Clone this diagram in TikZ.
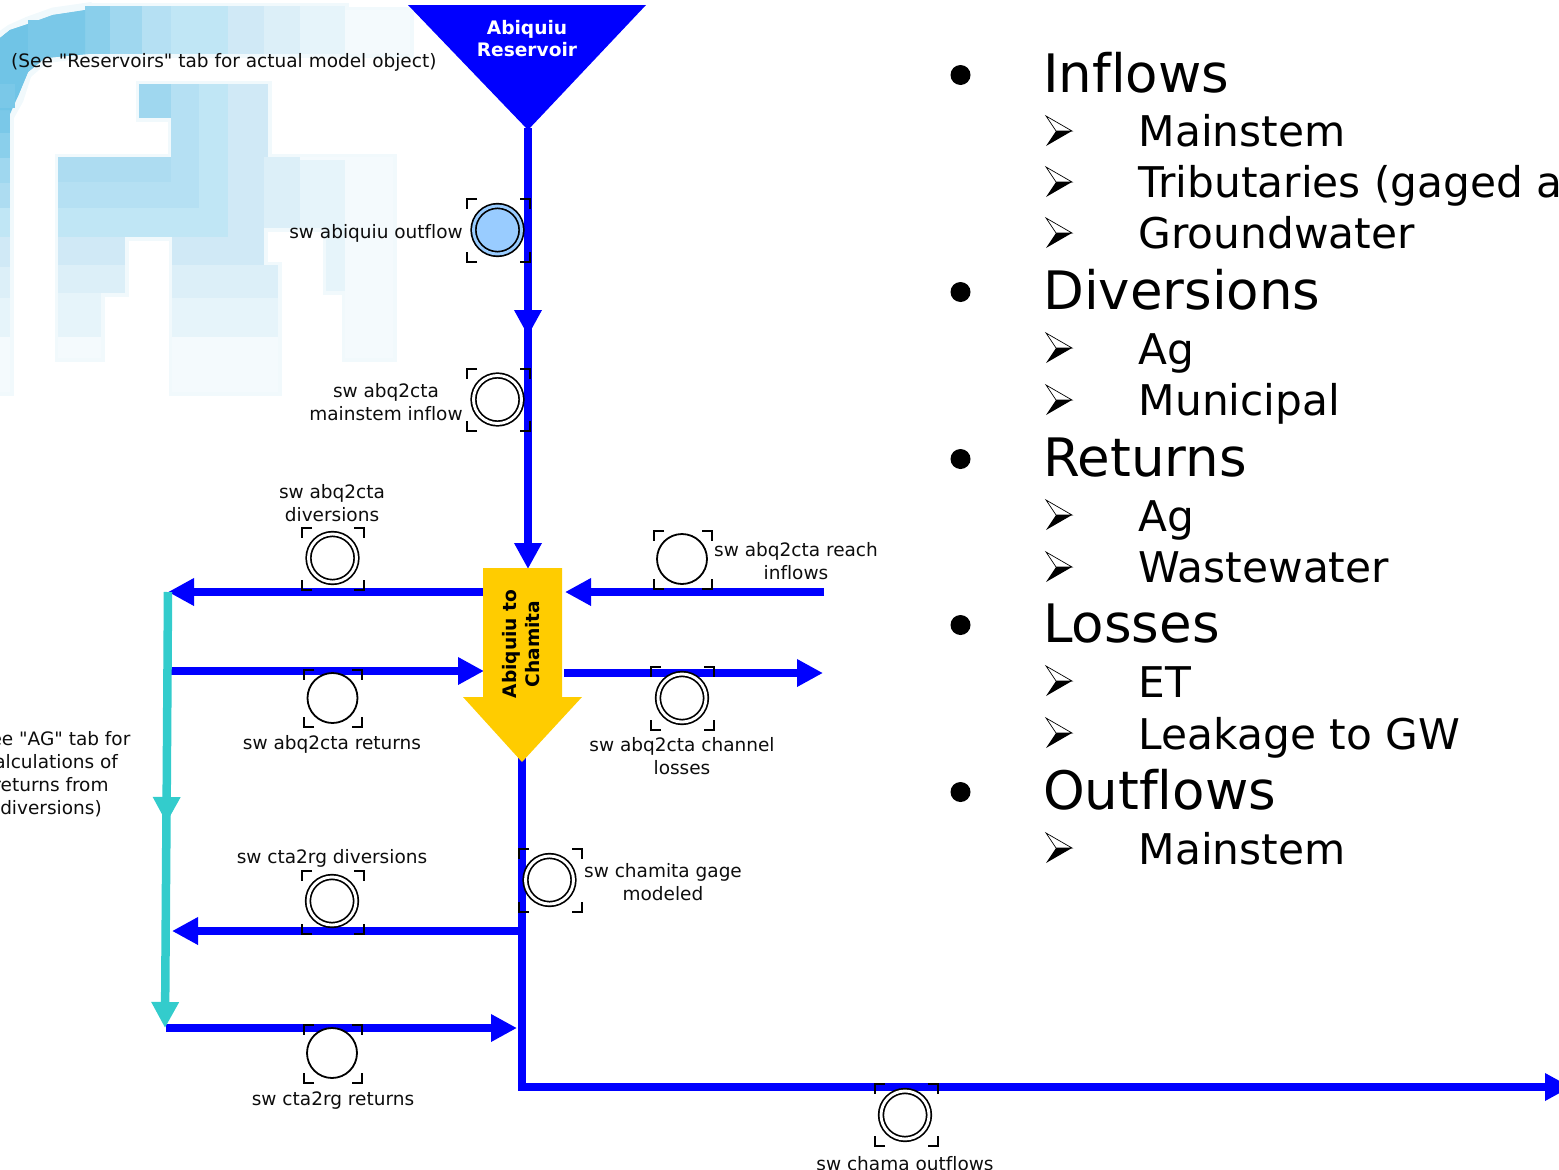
\documentclass[tikz,border=0pt]{standalone}
\usepackage{fontspec}
\newfontfamily\vfont[Ligatures=NoCommon]{DejaVu Sans}
\usetikzlibrary{arrows.meta}
\definecolor{flow}{HTML}{0000FF}
\definecolor{ret}{HTML}{33CCCC}
\definecolor{gold}{HTML}{FFCC00}
\definecolor{gagefill}{HTML}{99CCFF}
\definecolor{ha}{HTML}{70C4E6}\definecolor{hb}{HTML}{7AC8E8}\definecolor{hc}{HTML}{8ACFEB}
\definecolor{hd}{HTML}{9FD7EF}\definecolor{he}{HTML}{ADDCF1}\definecolor{hf}{HTML}{B5E0F3}
\definecolor{hg}{HTML}{C0E6F5}\definecolor{hh}{HTML}{D0E9F6}\definecolor{hi}{HTML}{DCEFF8}
\definecolor{hj}{HTML}{E6F4FA}\definecolor{hk}{HTML}{F4FAFD}\definecolor{fringe}{HTML}{F1F9FC}
\tikzset{
  x=1pt,y=-1pt,
  flowline/.style={draw=flow,line width=8.5pt},
  flowarrow/.style={flowline,-{Triangle[length=26pt,width=26pt]}},
  retline/.style={draw=ret,line width=8.5pt},
  retarrow/.style={retline,-{Triangle[length=26pt,width=26pt]}},
  lab/.style={font=\vfont\fontsize{18.5}{23}\selectfont,align=center,inner sep=0pt,text=black!95},
  boldlab/.style={lab,font=\vfont\fontsize{18.6}{22.5}\selectfont\bfseries},
  big/.style={font=\vfont\fontsize{53}{53}\selectfont,anchor=base west,inner sep=0pt},
  small/.style={font=\vfont\fontsize{42.3}{42.3}\selectfont,anchor=base west,inner sep=0pt},
  ring/.style={circle,draw=black,fill=white,line width=1.8pt,inner sep=0pt,outer sep=0pt,minimum size=50pt},
  dring/.style={circle,draw=black,fill=white,line width=1.7pt,double,double distance=2.9pt,inner sep=0pt,outer sep=0pt,minimum size=48pt},
  brk/.style={draw=black,line width=2pt},
}
% x0 x1 y0 y1
\newcommand{\brackets}[4]{%
  \draw[brk] (#1+10,#3)--(#1,#3)--(#1,#3+10);
  \draw[brk] (#2-10,#3)--(#2,#3)--(#2,#3+10);
  \draw[brk] (#1+10,#4)--(#1,#4)--(#1,#4-10);
  \draw[brk] (#2-10,#4)--(#2,#4)--(#2,#4-10);}
\newcommand{\heatrects}[1]{%
  \foreach \c/\xa/\ya/\xb/\yb in {
   ha/0/40/28/54, hb/28/20/85/54, hc/85/6/110/54, hd/110/6/142/54, hf/142/6/171/54,
   hg/171/6/228/54, hh/228/6/264/54, hi/264/6/300/54, hj/300/6/345/54, hk/345/10/410/54,
   hb/0/108/10/133, hc/0/133/10/158, hd/0/158/10/183, he/0/183/10/208, hg/0/208/10/237,
   hh/0/237/10/267, hi/0/267/10/298, hj/0/298/10/337, hk/0/337/10/392,
   hd/139/84/171/118, hf/171/84/199/157, hg/199/84/228/157, hh/228/84/268/157,
   he/58/157/171/182, hf/171/157/199/208, hf/58/182/171/208, hg/58/208/228/237, hg/199/157/228/208,
   hh/228/157/264/265, hi/264/157/300/228, hj/300/157/345/228, hk/345/157/393/358,
   hh/58/237/125/265, hh/172/237/228/265, hi/58/265/125/293, hi/172/265/278/298,
   hj/58/293/101/337, hj/172/298/278/337, hk/58/337/101/358, hk/172/337/278/392,
   hj/326/228/345/291, hk/300/157/345/160
  }{#1}}
\begin{document}
\begin{tikzpicture}
\useasboundingbox (0,0) rectangle (1559,1170);
\clip (0,0) rectangle (1559,1170);
% background heat map (picture of a reservoir map)
\heatrects{\draw[fringe,line width=7pt,fill=fringe] (\xa,\ya) rectangle (\xb,\yb);}
\draw[fringe,line width=7pt,fill=fringe] (0,35)--(10,28)--(28,20)--(53,11)--(88,6)--(88,54)--(45,60)--(28,75)--(20,100)--(10,118)--(0,118)--cycle;
\fill[ha] (0,38)--(10,30)--(28,24)--(53,15)--(88,10)--(88,54)--(45,58)--(28,72)--(18,96)--(10,114)--(0,114)--cycle;
\heatrects{\fill[\c] (\xa,\ya) rectangle (\xb,\yb);}
\fill[ha] (0,38)--(10,30)--(28,24)--(28,72)--(18,96)--(10,110)--(0,110)--cycle;
\fill[hb] (28,24)--(53,15)--(85,10)--(85,54)--(45,58)--(28,72)--cycle;
\fill[hb] (0,84) rectangle (15,108);

% anchor points
\coordinate (resTip) at (528,128);
\coordinate (midA) at (528,336);
\coordinate (midB) at (528,325);
\coordinate (goldTop) at (528,569);
\coordinate (divL) at (483,592);
\coordinate (divR) at (168,592);
\coordinate (inR) at (824,592);
\coordinate (inL) at (565,592);
\coordinate (retL) at (171,671);
\coordinate (retR) at (484,671);
\coordinate (lossL) at (564,673);
\coordinate (lossR) at (823,673);
\coordinate (goldTip) at (522,755);
\coordinate (div2R) at (522,931);
\coordinate (div2L) at (172,931);
\coordinate (corner) at (522,1087);
\coordinate (cornerW) at (518,1087);
\coordinate (outEnd) at (1571,1087);
\coordinate (ret2L) at (166,1028);
\coordinate (ret2R) at (517,1028);
\coordinate (tealTop) at (168,592);
\coordinate (tealMid) at (166.5,823);
\coordinate (tealMidB) at (166.5,812);
\coordinate (tealEnd) at (165,1028);

% connectors
\draw[flowarrow] (resTip)--(midA);
\draw[flowarrow] (midB)--(goldTop);
\draw[flowarrow] (divL)--(divR);
\draw[flowarrow] (inR)--(inL);
\draw[flowarrow] (retL)--(retR);
\draw[flowarrow] (lossL)--(lossR);
\draw[flowline] (goldTip)--(corner);
\draw[flowarrow] (cornerW)--(outEnd);
\draw[flowarrow] (div2R)--(div2L);
\draw[flowarrow] (ret2L)--(ret2R);
\draw[retarrow] (tealTop)--(tealMid);
\draw[retarrow] (tealMidB)--(tealEnd);

% reservoir
\fill[flow] (408,5)--(646,5)--(528,130)--cycle;
\node[boldlab,text=white] (reservoir) at (527,38.5) {Abiquiu\\Reservoir};

% reach arrow
\fill[gold] (483,568)--(562,568)--(562,697)--(582,697)--(522,762)--(463,697)--(483,697)--cycle;
\node[boldlab,rotate=90,text=black] (reach) at (521,644) {Abiquiu to\\Chamita};

% gages
\node[dring,double=gagefill,fill=gagefill] (g1) at (497.5,230) {};
\brackets{467}{530}{199}{262}
\node[dring] (g2) at (497.5,399.5) {};
\brackets{467}{530}{369}{431}
\node[dring] (g3) at (332.5,558) {};
\brackets{302}{364}{528}{590}
\node[ring] (g4) at (682,559) {};
\brackets{654}{712}{531}{589}
\node[ring] (g5) at (332.5,698) {};
\brackets{304}{362}{670}{727}
\node[dring] (g6) at (682,698) {};
\brackets{651}{714}{667}{730}
\node[dring] (g7) at (549.5,880) {};
\brackets{519}{582}{849}{912}
\node[dring] (g8) at (332,901) {};
\brackets{302}{364}{871}{934}
\node[ring] (g9) at (332,1053) {};
\brackets{304}{362}{1025}{1083}
\node[dring] (g10) at (905,1115) {};
\brackets{875}{938}{1084}{1146}

% labels
\node[lab,anchor=west] (n0) at (11,62) {(See "Reservoirs" tab for actual model object)};
\node[lab,anchor=east] (n1) at (463,233.5) {sw abiquiu outflow};
\node[lab] (n2) at (386,402) {sw abq2cta\\mainstem inflow};
\node[lab] (n3) at (332,503.5) {sw abq2cta\\diversions};
\node[lab] (n4) at (796,561.5) {sw abq2cta reach\\inflows};
\node[lab] (n5) at (332,744.5) {sw abq2cta returns};
\node[lab] (n6) at (682,756.5) {sw abq2cta channel\\losses};
\node[lab] (n7) at (663,882) {sw chamita gage\\modeled};
\node[lab] (n8) at (332,858.5) {sw cta2rg diversions};
\node[lab] (n9) at (333,1101) {sw cta2rg returns};
\node[lab] (n10) at (905,1164) {sw chama outflows};
\node[lab] (n11) at (51,774.5) {(See "AG" tab for\\calculations of\\returns from\\diversions)};

% list
\foreach \y in {75,292,459,625,792} \fill[black] (960.5,\y) circle (10);
\foreach \y in {131,182,233,348,400,515,567,681,733,848}{
  \draw[black,fill=white,line width=.7pt] (1046,\y-15)--(1072,\y)--(1056,\y)--cycle;
  \fill[black] (1046,\y+15)--(1072,\y)--(1056,\y)--cycle;
}
\node[big] (l1) at (1043,92) {Inflows};
\node[small] (l2) at (1138.5,146) {Mainstem};
\node[small] (l3) at (1138.5,197) {Tributaries (gaged a};
\node[small] (l4) at (1138.5,248) {Groundwater};
\node[big] (l5) at (1043,309) {Diversions};
\node[small] (l6) at (1138.5,364) {Ag};
\node[small] (l7) at (1138.5,415) {Municipal};
\node[big] (l8) at (1043,476) {Returns};
\node[small] (l9) at (1138.5,531) {Ag};
\node[small] (l10) at (1138.5,582) {Wastewater};
\node[big] (l11) at (1043,642) {Losses};
\node[small] (l12) at (1138.5,697) {ET};
\node[small] (l13) at (1138.5,749) {Leakage to GW};
\node[big] (l14) at (1043,809) {Outflows};
\node[small] (l15) at (1138.5,864) {Mainstem};
\end{tikzpicture}
\end{document}
